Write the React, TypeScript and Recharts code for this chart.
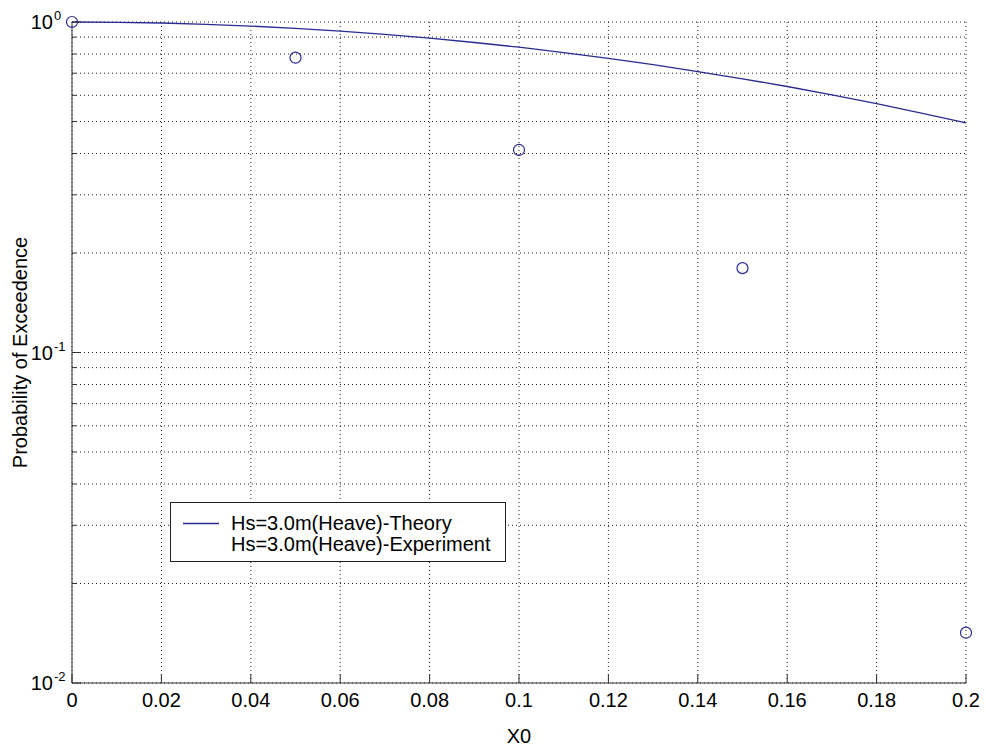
import React from "react";
import {
  ComposedChart,
  Line,
  Scatter,
  XAxis,
  YAxis,
  CartesianGrid,
  Legend,
  Label,
} from "recharts";

// theory curve, every 0.01
const xTheory = [0, 0.01, 0.02, 0.03, 0.04, 0.05, 0.06, 0.07, 0.08, 0.09, 0.1, 0.11, 0.12, 0.13, 0.14, 0.15, 0.16, 0.17, 0.18, 0.19, 0.2];
const pTheory = [1.0, 0.998, 0.993, 0.984, 0.972, 0.957, 0.939, 0.918, 0.894, 0.867, 0.839, 0.808, 0.776, 0.743, 0.708, 0.673, 0.638, 0.602, 0.566, 0.53, 0.495];

// experiment points
const xExp = [0, 0.05, 0.1, 0.15, 0.2];
const pExp = [1.0, 0.78, 0.41, 0.18, 0.0142];

const xTicks = [0, 0.02, 0.04, 0.06, 0.08, 0.1, 0.12, 0.14, 0.16, 0.18, 0.2];
const xTickLabels = ["0", "0.02", "0.04", "0.06", "0.08", "0.1", "0.12", "0.14", "0.16", "0.18", "0.2"];
const yTicks = [
  0.01, 0.02, 0.03, 0.04, 0.05, 0.06, 0.07, 0.08, 0.09,
  0.1, 0.2, 0.3, 0.4, 0.5, 0.6, 0.7, 0.8, 0.9, 1,
];
const yDecades = [0.01, 0.1, 1];
const yDecadeExps = ["-2", "-1", "0"];

const seriesNames = ["Hs=3.0m(Heave)-Theory", "Hs=3.0m(Heave)-Experiment"];

const theoryData = xTheory.map((x, i) => ({ x, p: pTheory[i] }));
const expData = xExp.map((x, i) => ({ x, p: pExp[i] }));

const FONT = '"Liberation Sans", Arial, sans-serif';
const FS = 20;
const AXIS = "#333";
const BLUE = "#2a2a92";

const decadeIndex = (v: number) => yDecades.findIndex((d) => Math.abs(d - v) < 1e-9);

const LeftTick = ({ x, y, payload }: any) => {
  const i = decadeIndex(payload.value);
  const major = i >= 0;
  return (
    <g>
      <line x1={x} x2={x + (major ? 9 : 4)} y1={y} y2={y} stroke={AXIS} />
      {major && (
        <>
          <text x={x - 19} y={y + 7} textAnchor="end" fontFamily={FONT} fontSize={FS} fill="#000">
            10
          </text>
          <text x={x - 18} y={y - 2} textAnchor="start" fontFamily={FONT} fontSize={13} fill="#000">
            {yDecadeExps[i]}
          </text>
        </>
      )}
    </g>
  );
};

const RightTick = ({ x, y, payload }: any) => {
  const major = decadeIndex(payload.value) >= 0;
  return <line x1={x} x2={x - (major ? 9 : 4)} y1={y} y2={y} stroke={AXIS} />;
};

const BottomTick = ({ x, y, index }: any) => (
  <g>
    <line x1={x} x2={x} y1={y} y2={y - 9} stroke={AXIS} />
    <text x={x} y={y + 24} textAnchor="middle" fontFamily={FONT} fontSize={FS} fill="#000">
      {xTickLabels[index]}
    </text>
  </g>
);

const TopTick = ({ x, y }: any) => <line x1={x} x2={x} y1={y} y2={y + 9} stroke={AXIS} />;

const Circle = (props: any) => (
  <circle cx={props.cx} cy={props.cy} r={5.5} fill="none" stroke={BLUE} strokeWidth={1.2} />
);

const LegendBox = () => (
  <div
    style={{
      border: "1px solid #222",
      background: "#fff",
      padding: "10px 14px 6px 0",
      fontFamily: FONT,
      fontSize: FS,
      color: "#000",
      width: "max-content",
    }}
  >
    {seriesNames.map((name, i) => (
      <div key={name} style={{ display: "flex", alignItems: "center", height: 21 }}>
        <svg width={48} height={21} style={{ display: "block" }}>
          {i === 0 && <line x1={12} x2={48} y1={10.5} y2={10.5} stroke={BLUE} strokeWidth={1.3} />}
        </svg>
        <span style={{ marginLeft: 12, whiteSpace: "nowrap", lineHeight: "21px" }}>{name}</span>
      </div>
    ))}
  </div>
);

export default function App() {
  return (
    <div style={{ position: "absolute", left: 0, top: 0, width: 986, height: 752, background: "#fff" }}>
      <ComposedChart
        width={986}
        height={752}
        data={theoryData}
        margin={{ top: 22, right: 20, bottom: 0, left: 0 }}
      >
        <CartesianGrid stroke="#222" strokeDasharray="1 3" />
        <XAxis
          dataKey="x"
          type="number"
          domain={[0, 0.2]}
          ticks={xTicks}
          interval={0}
          height={69}
          tickSize={0}
          tickMargin={0}
          tick={<BottomTick />}
          axisLine={{ stroke: AXIS }}
        >
          <Label
            content={({ viewBox }: any) => (
              <text
                x={(viewBox?.x ?? 72) + (viewBox?.width ?? 894) / 2}
                y={743}
                textAnchor="middle"
                fontFamily={FONT}
                fontSize={FS}
                fill="#000"
              >
                X0
              </text>
            )}
          />
        </XAxis>
        <XAxis
          xAxisId="t"
          orientation="top"
          type="number"
          domain={[0, 0.2]}
          allowDataOverflow
          ticks={xTicks}
          interval={0}
          height={0}
          tickSize={0}
          tickMargin={0}
          tick={<TopTick />}
          axisLine={{ stroke: AXIS }}
        />
        <YAxis
          dataKey="p"
          scale="log"
          type="number"
          domain={[0.01, 1]}
          ticks={yTicks}
          interval={0}
          width={72}
          tickSize={0}
          tickMargin={0}
          tick={<LeftTick />}
          axisLine={{ stroke: AXIS }}
        >
          <Label
            content={({ viewBox }: any) => {
              const cy = (viewBox?.y ?? 22) + (viewBox?.height ?? 661) / 2;
              return (
                <text
                  x={27}
                  y={cy}
                  transform={`rotate(-90, 27, ${cy})`}
                  textAnchor="middle"
                  fontFamily={FONT}
                  fontSize={FS}
                  fill="#000"
                >
                  Probability of Exceedence
                </text>
              );
            }}
          />
        </YAxis>
        <YAxis
          yAxisId="r"
          orientation="right"
          scale="log"
          type="number"
          domain={[0.01, 1]}
          allowDataOverflow
          ticks={yTicks}
          interval={0}
          width={0}
          tickSize={0}
          tickMargin={0}
          tick={<RightTick />}
          axisLine={{ stroke: AXIS }}
        />
        <Legend
          layout="horizontal"
          verticalAlign="middle"
          align="center"
          content={<LegendBox />}
          wrapperStyle={{ left: 170, top: 502, width: "auto", height: "auto" }}
        />
        <Line
          type="linear"
          dataKey="p"
          name={seriesNames[0]}
          stroke={BLUE}
          strokeWidth={1.3}
          dot={false}
          activeDot={false}
          isAnimationActive={false}
        />
        <Scatter
          data={expData}
          dataKey="p"
          name={seriesNames[1]}
          shape={<Circle />}
          isAnimationActive={false}
        />
      </ComposedChart>
    </div>
  );
}
